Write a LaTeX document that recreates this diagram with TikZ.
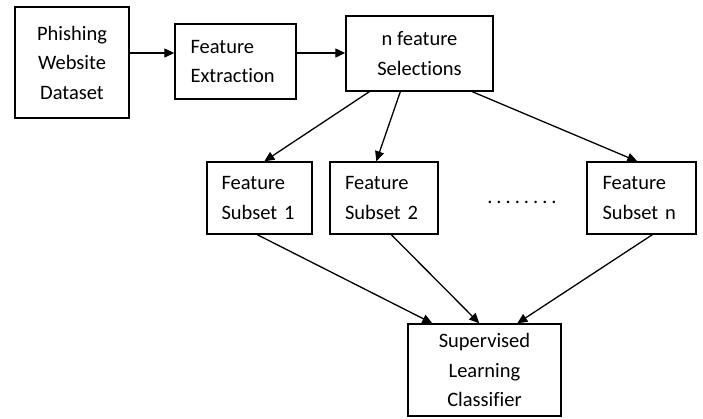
\documentclass[tikz,border=0pt]{standalone}
\usepackage{fontspec}
\setmainfont{Carlito}[Ligatures=NoCommon]
\usetikzlibrary{arrows.meta,calc}
\begin{document}
\begin{tikzpicture}[x=1pt,y=-1pt,
  box/.style={draw,line width=1.4pt,rectangle,inner sep=0pt,font=\fontsize{20.5}{29.5}\selectfont},
  arr/.style={line width=1.3pt,-{Triangle[length=10pt,width=9pt]}}]
\useasboundingbox (0,0) rectangle (703,418);
\node[box,minimum width=114,minimum height=111,align=center] (b1) at (72,62.5) {Phishing\\Website\\Dataset};
\node[box,minimum width=121,minimum height=75,text width=90,align=left] (b2) at (235.5,61.5) {Feature\\Extraction};
\node[box,minimum width=147,minimum height=75,align=center] (b3) at (419.5,53.5) {n feature\\Selections};
\node[box,minimum width=105,minimum height=72,text width=76,align=left] (s1) at (259.5,198) {Feature\\Subset 1};
\node[box,minimum width=108,minimum height=72,text width=78,align=left] (s2) at (384,198) {Feature\\Subset 2};
\node[box,minimum width=109,minimum height=72,text width=78,align=left] (sn) at (641.5,198) {Feature\\Subset n};
\node[box,minimum width=153,minimum height=92,align=center] (c) at (484.5,370) {Supervised\\Learning\\Classifier};
\node[font=\fontsize{20.5}{29.5}\selectfont,inner sep=0pt] (dots) at (522,202) {.\hspace{4pt}.\hspace{4pt}.\hspace{4pt}.\hspace{4pt}.\hspace{4pt}.\hspace{4pt}.\hspace{4pt}.};
\coordinate (a1) at ([yshift=9.5pt]b1.east);
\coordinate (a2) at ([yshift=8.5pt]b2.east);
\draw[arr] (a1) -- (a1 -| b2.west);
\draw[arr] (a2) -- (a2 -| b3.west);
\draw[arr] ([xshift=24pt]b3.south west) -- ([xshift=58pt]s1.north west);
\draw[arr] ([xshift=55pt]b3.south west) -- ([xshift=47pt]s2.north west);
\draw[arr] ([xshift=127pt]b3.south west) -- ([xshift=51pt]sn.north west);
\draw[arr] ([xshift=51pt]s1.south west) -- ([xshift=25pt]c.north west);
\draw[arr] ([xshift=62pt]s2.south west) -- ([xshift=72pt]c.north west);
\draw[arr] ([xshift=66pt]sn.south west) -- ([xshift=110pt]c.north west);
\end{tikzpicture}
\end{document}
